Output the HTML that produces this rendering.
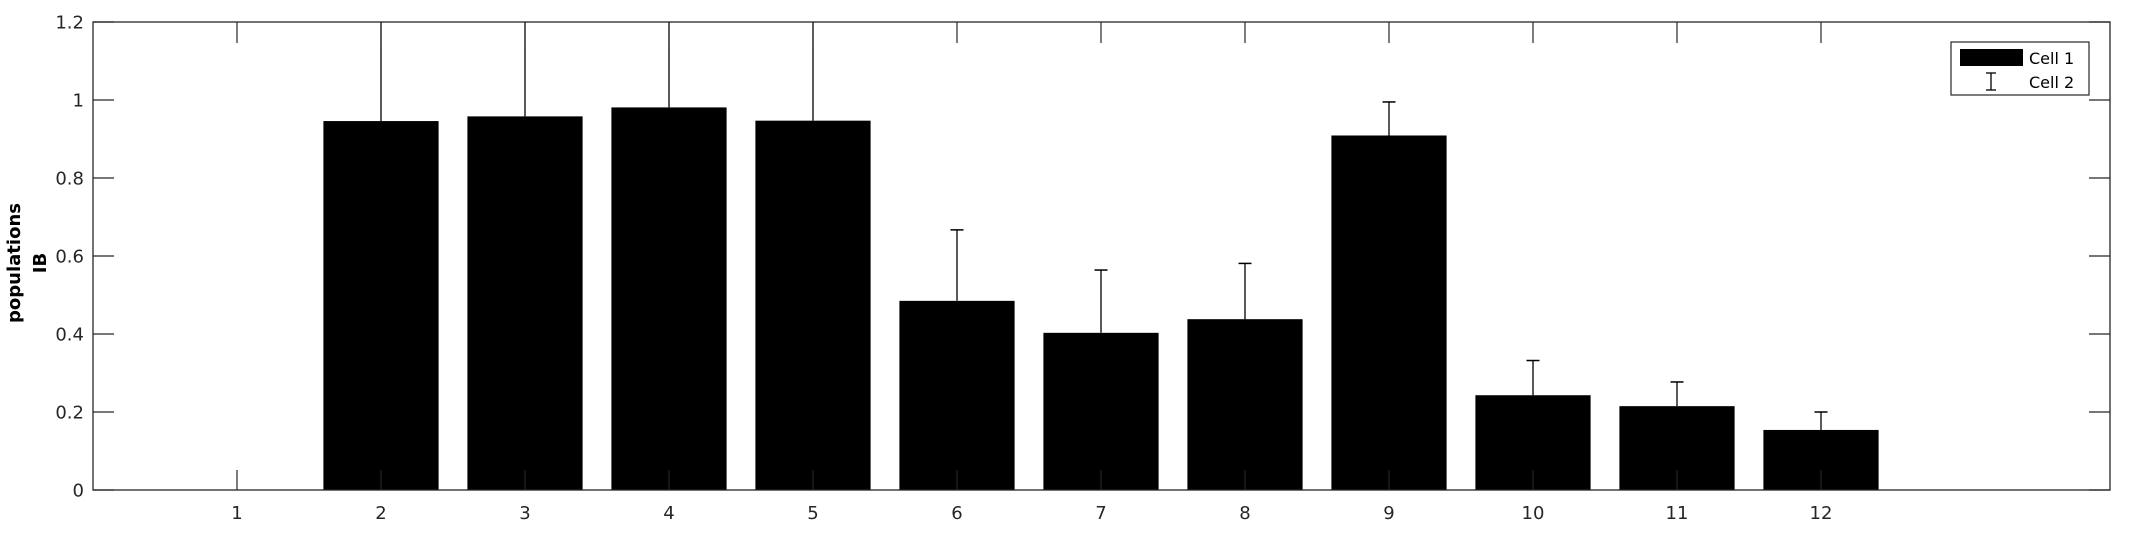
<!DOCTYPE html>
<html><head><meta charset="utf-8"><style>
html,body{margin:0;padding:0;background:#fff;}
svg{display:block;font-family:"DejaVu Sans","Liberation Sans",sans-serif;}
</style></head><body>
<svg id="chart" width="2133" height="533" viewBox="0 0 2133 533" xmlns="http://www.w3.org/2000/svg">
<rect x="0" y="0" width="2133" height="533" fill="#fff"/>
<g id="bars"></g>
<g id="axes"></g>
<g id="legend"></g>
</svg>
<script>
const categories = [1,2,3,4,5,6,7,8,9,10,11,12];
const cell1Values = [0,0.946,0.958,0.981,0.947,0.485,0.403,0.438,0.909,0.243,0.215,0.154];
const cell2ErrTop = [0,1.5,1.5,1.5,1.5,0.667,0.564,0.581,0.995,0.332,0.277,0.2];
const yTicks = [0,0.2,0.4,0.6,0.8,1,1.2];
const yTickLabels = ["0","0.2","0.4","0.6","0.8","1","1.2"];

const NS="http://www.w3.org/2000/svg";
const L=93,R=2110,T=22,B=490;
const x0=237,dx=144;
function xs(c){return x0+(c-1)*dx;}
function ys(v){return B-(v/1.2)*(B-T);}
function mk(tag,attrs,parent){const e=document.createElementNS(NS,tag);for(const k in attrs)e.setAttribute(k,attrs[k]);parent.appendChild(e);return e;}
const bars=document.getElementById('bars'),axes=document.getElementById('axes'),leg=document.getElementById('legend');
const bw=0.8*dx;
categories.forEach((c,i)=>{
  const v=cell1Values[i];
  const r=mk('rect',{x:xs(c)-bw/2,y:ys(v),width:bw,height:B-ys(v),fill:'#000'},bars);
  
  
  if(v>0){
    const top=Math.max(ys(cell2ErrTop[i]),T);
    const l=mk('line',{x1:xs(c),x2:xs(c),y1:ys(v),y2:top,stroke:'#000','stroke-width':1.3},bars);
    
    
    if(ys(cell2ErrTop[i])>=T){
      const cap=mk('line',{x1:xs(c)-6.5,x2:xs(c)+6.5,y1:top,y2:top,stroke:'#000','stroke-width':1.5},bars);
      
      
    }
  }
});
const box=mk('rect',{x:L,y:T,width:R-L,height:B-T,fill:'none',stroke:'#262626','stroke-width':1.3},axes);


yTicks.forEach((v,i)=>{
  const y=ys(v);
  mk('line',{x1:L,x2:L+21,y1:y,y2:y,stroke:'#262626','stroke-width':1.2},axes);
  mk('line',{x1:R-21,x2:R,y1:y,y2:y,stroke:'#262626','stroke-width':1.2},axes);
  const t=mk('text',{x:L-9,y:y+6.5,'text-anchor':'end','font-size':18,fill:'#262626'},axes);
  t.textContent=yTickLabels[i];
  
  
});
categories.forEach(c=>{
  const x=xs(c);
  mk('line',{x1:x,x2:x,y1:B,y2:B-20,stroke:'#262626','stroke-width':1.2},axes);
  mk('line',{x1:x,x2:x,y1:T,y2:T+21,stroke:'#262626','stroke-width':1.2},axes);
  const t=mk('text',{x:x,y:519,'text-anchor':'middle','font-size':18,fill:'#262626'},axes);
  t.textContent=String(c);
  
  
});
const yl=mk('text',{transform:'translate(20,263) rotate(-90)','text-anchor':'middle','font-size':18,'font-weight':'bold',fill:'#000'},axes);
yl.textContent='populations';


const yl2=mk('text',{transform:'translate(46,263) rotate(-90)','text-anchor':'middle','font-size':18,'font-weight':'bold',fill:'#000'},axes);
yl2.textContent='IB';


const lb=mk('rect',{x:1951,y:42,width:138,height:53,fill:'#fff',stroke:'#262626','stroke-width':1.2},leg);


const sw=mk('rect',{x:1960,y:49,width:63,height:17,fill:'#000'},leg);


const t1=mk('text',{x:2029,y:64,'font-size':16,fill:'#000'},leg);t1.textContent='Cell 1';


mk('line',{x1:1991,x2:1991,y1:73,y2:90,stroke:'#000','stroke-width':1.3},leg);
mk('line',{x1:1986,x2:1996,y1:73,y2:73,stroke:'#000','stroke-width':1.3},leg);
mk('line',{x1:1986,x2:1996,y1:90,y2:90,stroke:'#000','stroke-width':1.3},leg);
const t2=mk('text',{x:2029,y:88,'font-size':16,fill:'#000'},leg);t2.textContent='Cell 2';


</script>
</body></html>
